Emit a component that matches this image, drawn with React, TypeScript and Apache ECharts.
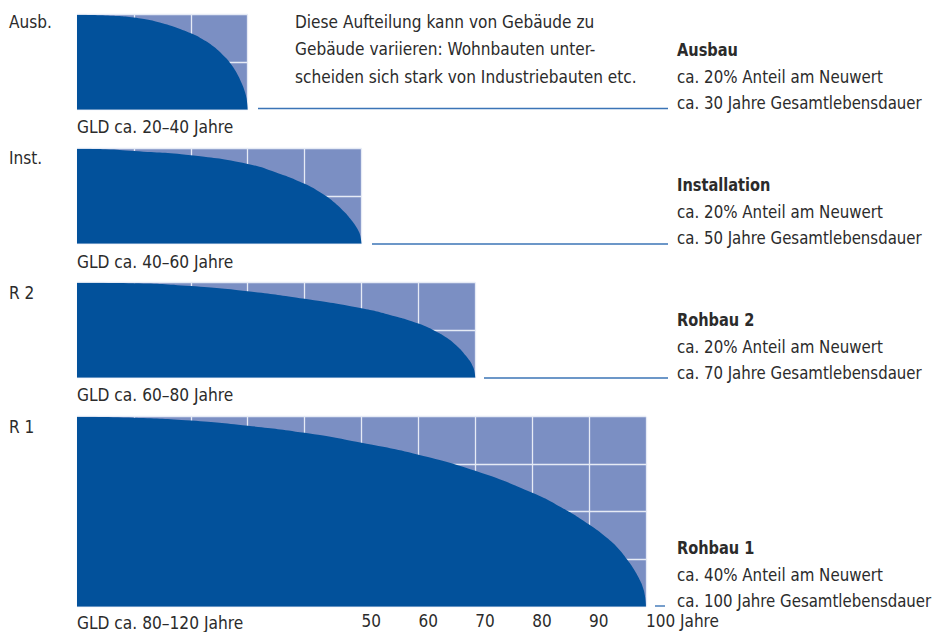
import React, { useEffect, useRef } from "react";
import * as echarts from "echarts";

// Restwert-Kurven (Anteil am Neuwert in %) über die Jahre
const ausbauYears = [0, 5, 10, 15, 20, 22, 24, 26, 27, 28, 29, 29.5, 29.8, 30];
const ausbauValues = [20, 19.85, 19.4, 18.2, 16.1, 14.9, 13.3, 11.1, 9.7, 7.9, 5.4, 3.8, 2.4, 0];

const installYears = [0, 5, 10, 20, 30, 35, 40, 43, 45, 47, 48, 49, 49.5, 49.8, 50];
const installValues = [20, 19.9, 19.5, 18.6, 16.8, 15.0, 12.6, 10.6, 8.9, 6.7, 5.3, 3.7, 2.6, 1.6, 0];

const rohbau2Years = [0, 10, 20, 30, 40, 50, 55, 60, 63, 65, 67, 68, 69, 69.5, 69.8, 70];
const rohbau2Values = [20, 19.9, 19.3, 18.2, 16.6, 14.6, 13.2, 11.4, 9.8, 8.4, 6.4, 5.1, 3.6, 2.5, 1.6, 0];

const rohbau1Years = [0, 10, 20, 30, 40, 50, 60, 70, 80, 85, 90, 93, 95, 97, 98, 99, 99.5, 99.8, 100];
const rohbau1Values = [40, 39.8, 39.2, 38.1, 36.6, 34.5, 32.0, 28.6, 24.0, 21.0, 17.3, 14.6, 12.4, 9.4, 7.6, 5.4, 3.9, 2.4, 0];

// Gesamtlebensdauer (x-Achsen-Maximum) und Anteil am Neuwert (y-Achsen-Maximum)
const lifetimes = [30, 50, 70, 100];
const shares = [20, 20, 20, 40];

const shortNames = ["Ausb.", "Inst.", "R 2", "R 1"];
const gldLabels = ["GLD ca. 20–40 Jahre", "GLD ca. 40–60 Jahre", "GLD ca. 60–80 Jahre", "GLD ca. 80–120 Jahre"];
const titles = ["Ausbau", "Installation", "Rohbau 2", "Rohbau 1"];
const shareLabels = ["ca. 20% Anteil am Neuwert", "ca. 20% Anteil am Neuwert", "ca. 20% Anteil am Neuwert", "ca. 40% Anteil am Neuwert"];
const lifeLabels = ["ca. 30 Jahre Gesamtlebensdauer", "ca. 50 Jahre Gesamtlebensdauer", "ca. 70 Jahre Gesamtlebensdauer", "ca. 100 Jahre Gesamtlebensdauer"];
const noteLines = [
  "Diese Aufteilung kann von Gebäude zu",
  "Gebäude variieren: Wohnbauten unter-",
  "scheiden sich stark von Industriebauten etc.",
];

const tickYears = [50, 60, 70, 80, 90, 100];
const tickLabels = ["50", "60", "70", "80", "90", "100 Jahre"];

const FONT = "'DejaVu Sans Condensed', 'Liberation Sans Narrow', sans-serif";
const TEXT = "#2b2b2b";
const DARK = "#02519b";
const LIGHT = "#7b8fc3";
const GRIDLINE = "#e6ebf5";
const CONNECT = "#3b74b6";

const PX_PER_YEAR = 5.69;
const LEFT = 77;
const tops = [14.7, 148.7, 282.7, 416.7];
const heights = [95, 95, 95, 190];

const App: React.FC = () => {
  const ref = useRef<HTMLDivElement>(null);

  useEffect(() => {
    if (!ref.current) return;
    const chart = echarts.init(ref.current, undefined, { renderer: "svg" });

    const seriesData = [
      ausbauYears.map((t, i) => [t, ausbauValues[i]]),
      installYears.map((t, i) => [t, installValues[i]]),
      rohbau2Years.map((t, i) => [t, rohbau2Values[i]]),
      rohbau1Years.map((t, i) => [t, rohbau1Values[i]]),
    ];

    const grids = lifetimes.map((T, i) => ({
      left: LEFT,
      top: tops[i],
      width: T * PX_PER_YEAR,
      height: heights[i],
      show: true,
      backgroundColor: LIGHT,
      borderWidth: 0,
      containLabel: false,
    }));

    const xAxes = lifetimes.map((T, i) => ({
      type: "value",
      gridIndex: i,
      min: 0,
      max: T,
      interval: 10,
      axisLine: { show: false },
      axisTick: { show: false },
      splitLine: { show: true, lineStyle: { color: GRIDLINE, width: 1.3 } },
      axisLabel: {
        show: i === 3,
        align: "left",
        margin: 6,
        fontFamily: FONT,
        fontSize: 17,
        color: TEXT,
        showMinLabel: true,
        showMaxLabel: true,
        formatter: (v: number) => {
          const k = tickYears.indexOf(v);
          return k >= 0 ? tickLabels[k] : "";
        },
      },
    }));

    const yAxes = shares.map((S, i) => ({
      type: "value",
      gridIndex: i,
      min: 0,
      max: S,
      interval: 10,
      axisLine: { show: false },
      axisTick: { show: false },
      axisLabel: { show: false },
      splitLine: { show: true, lineStyle: { color: GRIDLINE, width: 1.3 } },
    }));

    const series = seriesData.map((d, i) => ({
      type: "line",
      xAxisIndex: i,
      yAxisIndex: i,
      data: d,
      smooth: true,
      showSymbol: false,
      lineStyle: { width: 0 },
      areaStyle: { color: DARK, opacity: 1 },
      silent: true,
      z: 3,
    }));

    const txt = (x: number, y: number, text: string, sx: number, bold = false) => ({
      type: "text",
      x,
      y,
      scaleX: sx,
      silent: true,
      style: {
        text,
        fill: TEXT,
        font: `${bold ? "bold " : ""}18px ${FONT}`,
        verticalAlign: "middle",
        align: "left",
      },
    });

    const labelY = [22, 158, 293, 427];
    const gldY = [127, 262, 395, 623];
    const titleY = [50, 185, 320, 548];
    const rightX = 677;
    const lineStarts = [258, 372, 484, 655];
    const lineEnds = [668, 668, 668, 665];
    const lineY = [108.5, 244, 378, 606];

    const graphics: any[] = [];
    for (let i = 0; i < 4; i++) {
      graphics.push(txt(9, labelY[i], shortNames[i], 0.95));
      graphics.push(txt(77, gldY[i], gldLabels[i], 0.955));
      graphics.push(txt(rightX, titleY[i], titles[i], 0.9, true));
      graphics.push(txt(rightX, titleY[i] + 26.5, shareLabels[i], 0.93));
      graphics.push(txt(rightX, titleY[i] + 53, lifeLabels[i], 0.925));
      graphics.push({
        type: "line",
        silent: true,
        shape: { x1: lineStarts[i], y1: lineY[i], x2: lineEnds[i], y2: lineY[i] },
        style: { stroke: CONNECT, lineWidth: 1.4 },
      });
    }
    noteLines.forEach((l, k) => graphics.push(txt(295, 22 + k * 27.3, l, 0.95)));

    chart.setOption({
      animation: false,
      backgroundColor: "#ffffff",
      grid: grids,
      xAxis: xAxes,
      yAxis: yAxes,
      series,
      graphic: graphics,
    } as any);

    return () => chart.dispose();
  }, []);

  return (
    <div
      ref={ref}
      style={{ position: "fixed", left: 0, top: 0, width: 936, height: 632 }}
    />
  );
};

export default App;
